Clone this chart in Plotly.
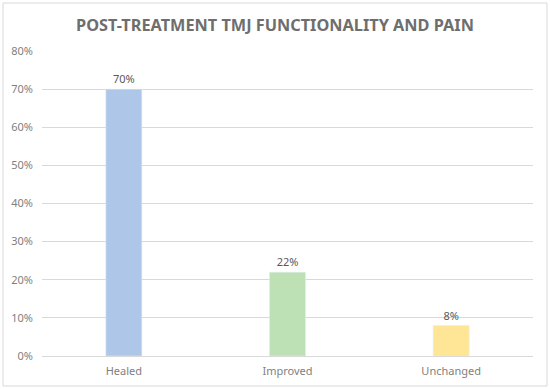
import plotly.graph_objects as go

categories = ["Healed", "Improved", "Unchanged"]
values = [70, 22, 8]
labels = ["70%", "22%", "8%"]
colors = ["#AEC7E8", "#BDE1B5", "#FFE596"]
tick_vals = [0, 10, 20, 30, 40, 50, 60, 70, 80]
tick_text = [f"{v}%" for v in tick_vals]

W, H = 550, 389
ml, mr, mt, mb = 42, 17, 51, 33
pw, ph = W - ml - mr, H - mt - mb

fig = go.Figure(go.Bar(
    x=categories, y=values, marker_color=colors, text=labels,
    textposition="outside", textfont=dict(size=11, color="#595959", family="Noto Sans"),
    cliponaxis=False, hoverinfo="skip",
))

def px_x(p):
    return (p - ml) / pw

def px_y(p):
    return (H - mb - p) / ph

fig.update_layout(
    width=W, height=H,
    margin=dict(l=ml, r=mr, t=mt, b=mb, autoexpand=False),
    paper_bgcolor="white", plot_bgcolor="white",
    bargap=0.78,
    showlegend=False,
    title=dict(text="<b>POST-TREATMENT TMJ FUNCTIONALITY AND PAIN</b>",
               x=0.5, xanchor="center", y=1 - 25 / H, yanchor="middle", automargin=False,
               font=dict(size=16.3, color="#6E6E6E", family="Noto Sans")),
    xaxis=dict(showgrid=False, showline=True, linecolor="#D9D9D9", linewidth=1,
               automargin=False, ticklabelstandoff=5,
               tickfont=dict(size=11, color="#7F7F7F", family="Noto Sans"), ticks=""),
    yaxis=dict(range=[0, 80], tickvals=tick_vals, ticktext=tick_text,
               showgrid=True, gridcolor="#D9D9D9", gridwidth=1, zeroline=False,
               automargin=False,
               tickfont=dict(size=11, color="#7F7F7F", family="Noto Sans"), ticks="",
               ticklabelstandoff=8),
    shapes=[dict(type="rect", xref="paper", yref="paper",
                 x0=px_x(3), x1=px_x(547), y0=px_y(386), y1=px_y(3),
                 line=dict(color="#D9D9D9", width=1), fillcolor="rgba(0,0,0,0)", layer="below")],
)

fig.write_html("out.html", config={"displayModeBar": False},
               post_script="document.body.style.margin='0';document.body.style.overflow='hidden';")
